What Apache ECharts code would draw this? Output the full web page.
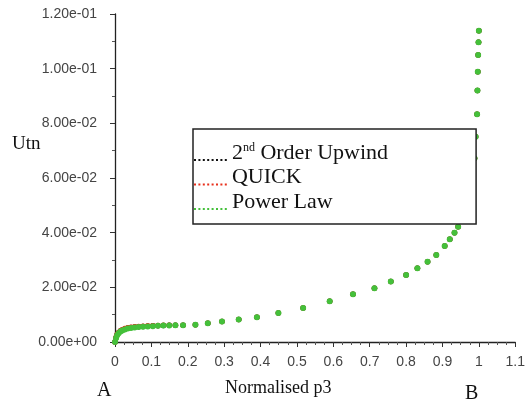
<!DOCTYPE html>
<html>
<head>
<meta charset="utf-8">
<script src="https://cdn.jsdelivr.net/npm/echarts@6/dist/echarts.min.js"></script>
<style>
html,body{margin:0;padding:0;background:#fff;}
#chart{width:528px;height:400px;}
</style>
</head>
<body>
<div id="chart"></div>
<script>
// Normalised p3 positions and Utn values
const xPower = [0, 0.003, 0.006, 0.01, 0.015, 0.02, 0.027, 0.035, 0.044, 0.054, 0.065, 0.077, 0.09, 0.104, 0.118, 0.133, 0.149, 0.166, 0.187, 0.221, 0.255, 0.294, 0.340, 0.390, 0.449, 0.517, 0.590, 0.654, 0.713, 0.758, 0.800, 0.831, 0.859, 0.883, 0.906, 0.920, 0.933, 0.943, 0.955, 0.966, 0.976, 0.988, 0.991, 0.995, 0.996, 0.997, 0.998, 0.999, 1.0];
const yPower = [0, 0.0015, 0.0025, 0.0032, 0.0038, 0.0042, 0.0046, 0.0049, 0.0051, 0.0053, 0.0055, 0.0056, 0.0057, 0.0058, 0.0059, 0.0060, 0.0060, 0.0061, 0.0061, 0.0063, 0.0069, 0.0075, 0.0082, 0.0091, 0.0106, 0.0124, 0.0149, 0.0175, 0.0197, 0.0221, 0.0245, 0.0270, 0.0294, 0.0318, 0.0351, 0.0376, 0.0400, 0.0422, 0.0460, 0.0510, 0.0570, 0.0672, 0.0751, 0.0833, 0.0920, 0.0989, 0.1050, 0.1097, 0.1139];
const yQuick = [0, 0.0017, 0.0028, 0.0035, 0.0041, 0.0045, 0.0049, 0.0052, 0.0054, 0.0056, 0.0057, 0.0058, 0.0059, 0.0059, 0.0060, 0.0061, 0.0061, 0.0061, 0.0061, 0.0063, 0.0069, 0.0075, 0.0082, 0.0091, 0.0106, 0.0124, 0.0149, 0.0175, 0.0197, 0.0221, 0.0245, 0.0270, 0.0294, 0.0318, 0.0351, 0.0376, 0.0400, 0.0422, 0.0460, 0.0510, 0.0570, 0.0672, 0.0751, 0.0833, 0.0920, 0.0989, 0.1050, 0.1097, 0.1139];
const yUpwind = [0, 0.0016, 0.0027, 0.0034, 0.0040, 0.0044, 0.0048, 0.0051, 0.0053, 0.0055, 0.0056, 0.0057, 0.0058, 0.0059, 0.0059, 0.0060, 0.0061, 0.0061, 0.0061, 0.0063, 0.0069, 0.0075, 0.0082, 0.0091, 0.0106, 0.0124, 0.0149, 0.0175, 0.0197, 0.0221, 0.0245, 0.0270, 0.0294, 0.0318, 0.0351, 0.0376, 0.0400, 0.0422, 0.0460, 0.0510, 0.0570, 0.0672, 0.0751, 0.0833, 0.0920, 0.0989, 0.1050, 0.1097, 0.1139];
const seriesNames = ['2nd Order Upwind', 'QUICK', 'Power Law'];
const xTicks = ['0', '0.1', '0.2', '0.3', '0.4', '0.5', '0.6', '0.7', '0.8', '0.9', '1', '1.1'];

function pairs(xs, ys) { return xs.map((x, i) => [x, ys[i]]); }
function expFmt(v) {
  const s = Number(v).toExponential(2);
  const m = s.match(/^(-?[\d.]+)e([+-])(\d+)$/);
  return m[1] + 'e' + m[2] + (m[3].length < 2 ? '0' + m[3] : m[3]);
}
const dots = 'path://' + [0,1,2,3,4,5,6,7].map(i => 'M' + (i*4.4) + ' 0h2v2h-2z').join(' ');

const chart = echarts.init(document.getElementById('chart'), null, {renderer: 'canvas'});
const serif = 'Liberation Serif';
const sans = 'Liberation Sans';
chart.setOption({
  backgroundColor: '#fff',
  animation: false,
  grid: {left: 115, right: 10, top: 14, bottom: 58},
  xAxis: {
    type: 'value', min: 0, max: 1.1, interval: 0.1,
    axisLine: {show: true, onZero: false, lineStyle: {color: '#222', width: 1.3}},
    axisTick: {show: true, length: 5, lineStyle: {color: '#333'}},
    minorTick: {show: true, splitNumber: 4, length: 3, lineStyle: {color: '#555'}},
    splitLine: {show: false},
    axisLabel: {margin: 13, fontFamily: sans, fontSize: 14, color: '#444',
      formatter: (v) => xTicks[Math.round(v * 10)]}
  },
  yAxis: {
    type: 'value', min: 0, max: 0.12, interval: 0.02,
    axisLine: {show: true, lineStyle: {color: '#222', width: 1.3}},
    axisTick: {show: true, length: 5, lineStyle: {color: '#333'}},
    minorTick: {show: true, splitNumber: 2, length: 3, lineStyle: {color: '#555'}},
    splitLine: {show: false},
    axisLabel: {margin: 18, fontFamily: sans, fontSize: 14, color: '#444', formatter: expFmt}
  },
  legend: {
    orient: 'vertical', left: 193, top: 129,
    padding: [13, 88, 11, 1],
    itemWidth: 33, itemHeight: 2, itemGap: 2.5,
    backgroundColor: '#fff', borderColor: '#222', borderWidth: 1.5,
    icon: dots,
    data: seriesNames,
    formatter: (n) => n === '2nd Order Upwind' ? '{b|2}{s|nd}{b| Order Upwind}' : '{b|' + n + '}',
    textStyle: {fontFamily: serif, fontSize: 22, color: '#111', padding: [0, 0, 14, 0],
      rich: {b: {fontFamily: serif, fontSize: 22, color: '#111', lineHeight: 22},
             s: {fontFamily: serif, fontSize: 12, color: '#111', verticalAlign: 'top', lineHeight: 22}}}
  },
  series: [
    {name: seriesNames[0], type: 'scatter', symbolSize: 5.5, data: pairs(xPower, yUpwind), itemStyle: {color: '#111', opacity: 1}},
    {name: seriesNames[1], type: 'scatter', symbolSize: 5.5, data: pairs(xPower, yQuick), itemStyle: {color: '#e8301c', opacity: 1}},
    {name: seriesNames[2], type: 'scatter', symbolSize: 6, data: pairs(xPower, yPower), itemStyle: {color: '#44c03a', opacity: 1}}
  ],
  graphic: [
    {type: 'text', left: 12, top: 135, style: {text: 'Utn', font: '19px "Liberation Serif"', fill: '#111'}},
    {type: 'text', left: 225, top: 379, style: {text: 'Normalised p3', font: '18px "Liberation Serif"', fill: '#111'}},
    {type: 'text', left: 97, top: 381, style: {text: 'A', font: '20px "Liberation Serif"', fill: '#111'}},
    {type: 'text', left: 465, top: 384, style: {text: 'B', font: '20px "Liberation Serif"', fill: '#111'}}
  ]
});
</script>
</body>
</html>
